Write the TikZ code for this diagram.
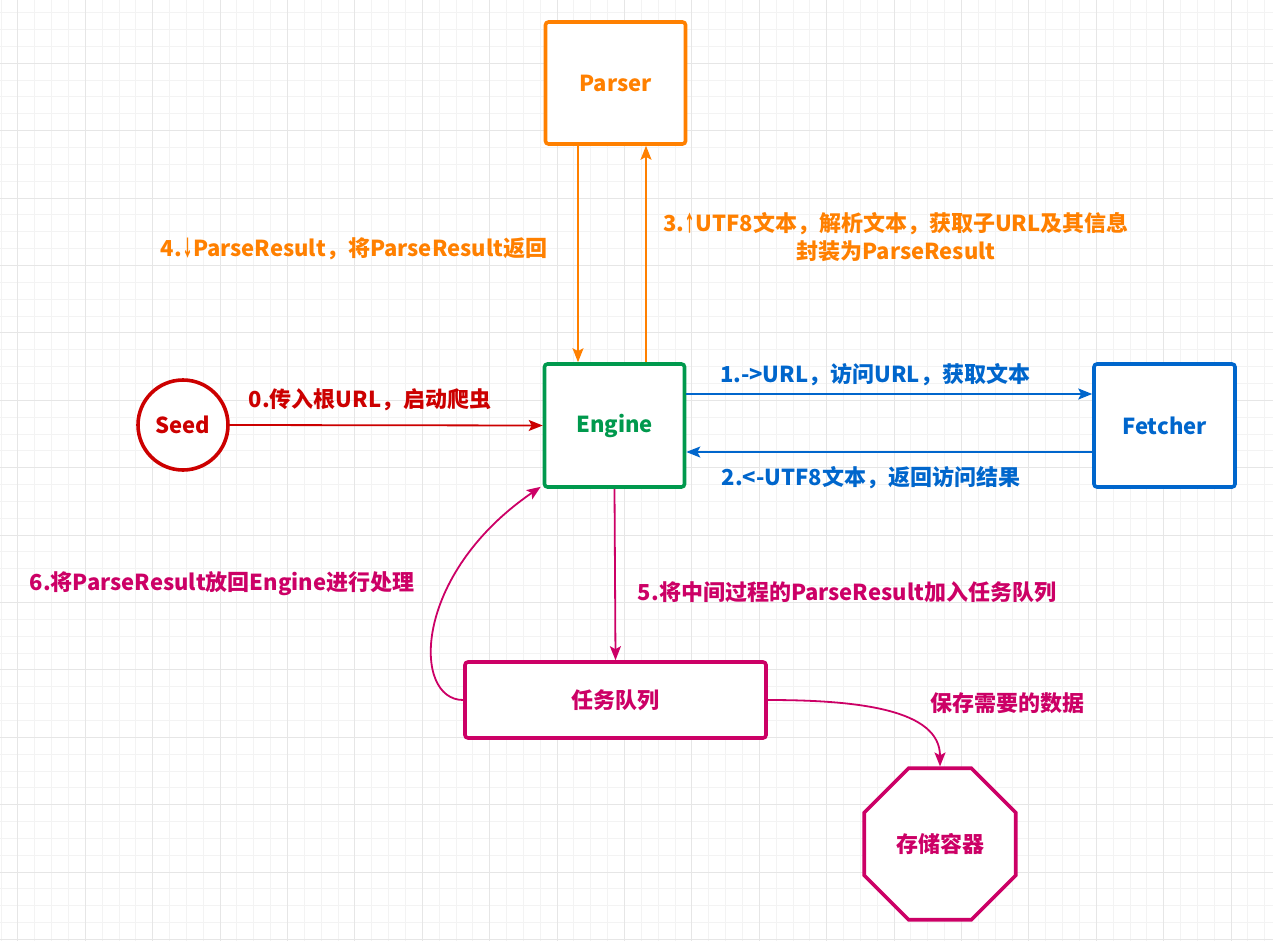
\documentclass[tikz,border=0pt]{standalone}
\usepackage{fontspec}
\usepackage{graphicx}
\setmainfont{Noto Sans CJK SC}
\usetikzlibrary{shapes.geometric,arrows.meta,calc}

\definecolor{cOrange}{HTML}{FF8000}
\definecolor{cGreen}{HTML}{00994D}
\definecolor{cBlue}{HTML}{0066CC}
\definecolor{cRed}{HTML}{CC0000}
\definecolor{cPink}{HTML}{CC0066}
\definecolor{gridMinor}{HTML}{F3F3F3}
\definecolor{gridMajor}{HTML}{E6E6E6}

% narrow arrow glyphs inside the labels
\newcommand{\narrowarrow}[1]{\scalebox{0.5}[1]{#1}}

\tikzset{
  txt/.style={font=\fontsize{22}{28}\selectfont\bfseries, inner sep=0pt, align=center},
  box/.style={draw, line width=3.6pt, rounded corners=3pt, fill=white,
              minimum width=140pt, minimum height=123pt, inner sep=0pt, txt},
  conn/.style={line width=1.8pt, -{Stealth[length=14pt,width=11pt,inset=3pt]}},
}

\begin{document}
\begin{tikzpicture}[x=1pt, y=-1pt]
  \useasboundingbox (0,0) rectangle (1273,941);
  \fill[white] (0,0) rectangle (1273,941);

  % background grid
  \foreach \i in {0,...,75}
    \draw[gridMinor, line width=1pt] ({1.05+\i*16.85},0) -- ++(0,941);
  \foreach \j in {0,...,56}
    \draw[gridMinor, line width=1pt] (0,{12.75+\j*16.85}) -- ++(1273,0);
  \foreach \i in {0,...,18}
    \draw[gridMajor, line width=1pt] ({17.9+\i*67.4},0) -- ++(0,941);
  \foreach \j in {0,...,14}
    \draw[gridMajor, line width=1pt] (0,{-4.1+\j*67.4}) -- ++(1273,0);

  % nodes
  \node[box, draw=cOrange, text=cOrange, minimum height=122pt] (parser) at (615.5,83) {Parser};
  \node[box, draw=cGreen, text=cGreen] (engine) at (614.5,425.5) {Engine};
  \node[box, draw=cBlue, text=cBlue, minimum width=141pt] (fetcher) at (1164.5,425.5) {Fetcher};
  \node[circle, draw=cRed, text=cRed, line width=3.6pt, fill=white, minimum size=90pt,
        inner sep=0pt, txt] (seed) at (183,425) {Seed};
  \node[box, draw=cPink, text=cPink, minimum width=301pt, minimum height=76pt] (queue) at (615.5,700) {任务队列};
  \node[regular polygon, regular polygon sides=8, draw=cPink, text=cPink, line width=3.6pt,
        fill=white, minimum size=164pt, inner sep=0pt, txt] (store) at (940,844) {存储容器};

  % connectors
  \draw[conn, cOrange] ([xshift=-37.5pt]parser.south) -- ([xshift=-36.5pt]engine.north);
  \draw[conn, cOrange] ([xshift=31.5pt]engine.north) -- ([xshift=30.5pt]parser.south);
  \draw[conn, cRed] (seed.east) -- (engine.west);
  \draw[conn, cBlue] ([yshift=31.5pt]engine.east) -- ([yshift=31.5pt]fetcher.west);
  \draw[conn, cBlue] ([yshift=-26.5pt]fetcher.west) -- ([yshift=-26.5pt]engine.east);
  \draw[conn, cPink] (engine.south) -- (queue.north);
  \draw[conn, cPink] (queue.west) .. controls (412,700) and (412,575) .. ([xshift=-2pt,yshift=2pt]engine.south west);
  \draw[conn, cPink] (queue.east) .. controls (860,700) and (940,710) .. (store.north);

  % labels
  \node[txt, text=cOrange] (l4) at (354,249) {4.\narrowarrow{↓}ParseResult，将ParseResult返回};
  \node[txt, text=cOrange] (l3) at (896,237) {3.\narrowarrow{↑}UTF8文本，解析文本，获取子URL及其信息\\封装为ParseResult};
  \node[txt, text=cRed] (l0) at (370,400) {0.传入根URL，启动爬虫};
  \node[txt, text=cBlue] (l1) at (875,375) {1.->URL，访问URL，获取文本};
  \node[txt, text=cBlue] (l2) at (871,478) {2.<-UTF8文本，返回访问结果};
  \node[txt, text=cPink] (l6) at (222,584) {6.将ParseResult放回Engine进行处理};
  \node[txt, text=cPink] (l5) at (847,592) {5.将中间过程的ParseResult加入任务队列};
  \node[txt, text=cPink] (l7) at (1007,703) {保存需要的数据};
\end{tikzpicture}
\end{document}
